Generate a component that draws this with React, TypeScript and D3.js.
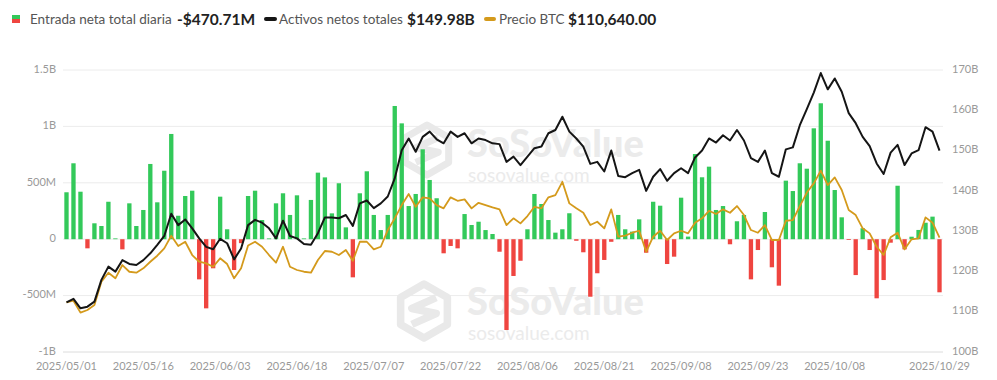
import React from "react";
import * as d3 from "d3";

const dates: string[] = [
  "2025/05/01","2025/05/02","2025/05/05","2025/05/06","2025/05/07","2025/05/08","2025/05/09","2025/05/12","2025/05/13","2025/05/14",
  "2025/05/15","2025/05/16","2025/05/19","2025/05/20","2025/05/21","2025/05/22","2025/05/23","2025/05/27","2025/05/28","2025/05/29",
  "2025/05/30","2025/06/02","2025/06/03","2025/06/04","2025/06/05","2025/06/06","2025/06/09","2025/06/10","2025/06/11","2025/06/12",
  "2025/06/13","2025/06/16","2025/06/17","2025/06/18","2025/06/20","2025/06/23","2025/06/24","2025/06/25","2025/06/26","2025/06/27",
  "2025/06/30","2025/07/01","2025/07/02","2025/07/03","2025/07/07","2025/07/08","2025/07/09","2025/07/10","2025/07/11","2025/07/14",
  "2025/07/15","2025/07/16","2025/07/17","2025/07/18","2025/07/21","2025/07/22","2025/07/23","2025/07/24","2025/07/25","2025/07/28",
  "2025/07/29","2025/07/30","2025/07/31","2025/08/01","2025/08/04","2025/08/05","2025/08/06","2025/08/07","2025/08/08","2025/08/11",
  "2025/08/12","2025/08/13","2025/08/14","2025/08/15","2025/08/18","2025/08/19","2025/08/20","2025/08/21","2025/08/22","2025/08/25",
  "2025/08/26","2025/08/27","2025/08/28","2025/08/29","2025/09/02","2025/09/03","2025/09/04","2025/09/05","2025/09/08","2025/09/09",
  "2025/09/10","2025/09/11","2025/09/12","2025/09/15","2025/09/16","2025/09/17","2025/09/18","2025/09/19","2025/09/22","2025/09/23",
  "2025/09/24","2025/09/25","2025/09/26","2025/09/29","2025/09/30","2025/10/01","2025/10/02","2025/10/03","2025/10/06","2025/10/07",
  "2025/10/08","2025/10/09","2025/10/10","2025/10/13","2025/10/14","2025/10/15","2025/10/16","2025/10/17","2025/10/20","2025/10/21",
  "2025/10/22","2025/10/23","2025/10/24","2025/10/27","2025/10/28","2025/10/29",
];

// Daily total net inflow, millions USD
const netInflowM: number[] = [
  416, 673, 421, -81, 141, 117, 332, 5, -90, 318,
  117, 259, 667, 327, 607, 933, 208, 383, 430, -356,
  -613, -258, 377, 88, -273, -35, 383, 430, 170, 2,
  318, 407, 215, 389, 6, 348, 590, 548, 229, 496,
  105, -338, 407, 602, 215, 81, 215, 1181, 1027, 294,
  401, 797, 525, 363, -125, -60, -81, 223, 126, 155,
  81, 46, -111, -805, -326, -191, 88, 401, 312, 170,
  58, 88, 230, -14, -116, -510, -302, -184, -23, 215,
  88, 67, 176, -120, 332, 297, -220, -155, 368, 23,
  755, 549, 643, 259, 294, -45, 159, 215, -356, -96,
  241, -249, -412, 519, 427, 673, 625, 983, 1205, 873,
  436, 194, -5, -318, 97, -96, -524, -362, -31, 474,
  -90, 22, 82, 146, 200, -470.71,
];

// Total net assets, billions USD
const netAssetsB: number[] = [
  112.3, 113.2, 110.85, 111.25, 112.5, 117.9, 121.2, 119.95, 122.8, 121.85,
  121.6, 122.8, 124.5, 126.6, 128.8, 134.3, 131.5, 132.9, 130.7, 128.2,
  126.1, 125.5, 128.1, 127.0, 123.0, 125.7, 131.5, 132.8, 132.1, 130.7,
  128.2, 132.6, 128.8, 128.2, 126.8, 126.6, 129.5, 133.4, 133.4, 133.2,
  134.0, 131.3, 136.9, 137.6, 135.7, 136.9, 138.6, 143.1, 150.1, 153.0,
  149.7, 153.4, 154.7, 152.8, 151.8, 154.7, 153.4, 154.3, 151.8, 153.0,
  152.6, 151.8, 151.6, 147.2, 148.5, 146.4, 148.5, 150.6, 151.0, 154.3,
  155.1, 158.4, 154.7, 153.0, 151.0, 146.7, 147.2, 144.8, 150.0, 143.7,
  143.4, 144.4, 145.2, 140.0, 143.5, 145.4, 142.5, 144.4, 145.6, 144.4,
  148.3, 150.0, 153.0, 152.0, 153.8, 152.5, 155.1, 152.5, 148.1, 147.2,
  150.0, 144.4, 143.5, 150.3, 150.8, 156.3, 160.3, 164.4, 169.25, 165.2,
  167.9, 164.6, 159.3, 156.8, 153.4, 151.1, 146.8, 144.2, 149.5, 151.4,
  146.4, 149.3, 150.1, 155.8, 154.7, 149.98,
];

// BTC price, USD
const btcPrice: number[] = [
  96490, 96840, 94220, 94810, 95900, 101000, 102980, 101750, 104660, 103190,
  102980, 103940, 105380, 106700, 108320, 111080, 108820, 109760, 106850, 105380,
  105030, 104290, 106130, 104880, 101750, 103940, 108930, 109760, 108670, 106850,
  105170, 108670, 104290, 103570, 103190, 102980, 105760, 107730, 107570, 106850,
  107950, 105600, 109760, 109760, 108100, 108670, 112330, 114890, 117800, 120210,
  117430, 119490, 119270, 117800, 117080, 119490, 118740, 119050, 117080, 118300,
  117800, 117300, 116860, 113420, 114890, 113790, 115390, 117430, 117080, 119490,
  119990, 122900, 118170, 117080, 116120, 113420, 114140, 112700, 116860, 110860,
  111120, 111740, 112170, 107570, 110860, 112170, 110140, 111600, 112170, 111600,
  113930, 114890, 116550, 115830, 116860, 116120, 117580, 115610, 112330, 111740,
  113420, 110140, 110140, 114360, 114520, 117580, 120540, 122550, 125360, 122180,
  123870, 121090, 116710, 115610, 112700, 111600, 108670, 106850, 110730, 111740,
  108100, 110290, 110510, 115110, 113930, 110640,
];

const xTickIndex: number[] = [0, 11, 22, 33, 44, 55, 66, 77, 88, 99, 110, 125];
const leftTicks: number[] = [-1000, -500, 0, 500, 1000, 1500];
const leftTickLabels: string[] = ["-1B", "-500M", "0", "500M", "1B", "1.5B"];
const rightTicks: number[] = [100, 110, 120, 130, 140, 150, 160, 170];
const rightTickLabels: string[] = ["100B", "110B", "120B", "130B", "140B", "150B", "160B", "170B"];

const FONT = "Lato, 'Open Sans', sans-serif";
const GREEN = "#33c95a";
const RED = "#ef4540";
const BLACK = "#151515";
const ORANGE = "#d49a1c";

function Logo({ cx, cy, r }: { cx: number; cy: number; r: number }) {
  const hex = d3.range(6).map((k) => {
    const a = (Math.PI / 3) * k - Math.PI / 2;
    return [cx + r * Math.cos(a), cy + r * Math.sin(a)];
  });
  const hexPath = "M" + hex.map((p) => p.join(",")).join("L") + "Z";
  const s = r * 0.45;
  const sPath = `M${cx + s},${cy - s * 1.1} L${cx - s},${cy - s * 0.2} L${cx + s},${cy + s * 0.2} L${cx - s},${cy + s * 1.1}`;
  return (
    <g fill="none" stroke="#e9e9e9" strokeWidth={r * 0.28} strokeLinejoin="round">
      <path d={hexPath} />
      <path d={sPath} />
    </g>
  );
}

export default function App() {
  const W = 997;
  const H = 380;
  const top = 70;
  const bottom = 352;
  const left = 63;
  const right = 943;

  const n = dates.length;
  const x = d3
    .scaleBand<number>()
    .domain(d3.range(n))
    .range([left, right])
    .paddingInner(0.38)
    .paddingOuter(0.19);
  const cx = (i: number) => (x(i) as number) + x.bandwidth() / 2;

  const yL = d3.scaleLinear().domain([-1000, 1500]).range([bottom, top]);
  const yR = d3.scaleLinear().domain([100, 170]).range([bottom, top]);
  const yP = d3.scaleLinear().domain([85600, 147400]).range([bottom, top]);

  const assetsLine = d3
    .line<number>()
    .x((_, i) => cx(i))
    .y((d) => yR(d))(netAssetsB) as string;
  const priceLine = d3
    .line<number>()
    .x((_, i) => cx(i))
    .y((d) => yP(d))(btcPrice) as string;

  return (
    <svg
      width={W}
      height={H}
      viewBox={`0 0 ${W} ${H}`}
      style={{ position: "absolute", left: 0, top: 0, background: "#fff", fontFamily: FONT }}
    >
      {/* Legend */}
      <g>
        <rect x={12} y={15} width={8} height={4} fill={GREEN} />
        <rect x={12} y={19} width={8} height={4} fill={RED} />
        <text x={30} y={24} fontSize={13.5} fill="#555">Entrada neta total diaria</text>
        <text x={177} y={24.5} fontSize={15.5} fontWeight={700} fill="#222">-$470.71M</text>
        <line x1={266} x2={275} y1={19} y2={19} stroke={BLACK} strokeWidth={4} strokeLinecap="round" />
        <text x={279} y={24} fontSize={13.5} fill="#555">Activos netos totales</text>
        <text x={407} y={24.5} fontSize={15.5} fontWeight={700} fill="#222">$149.98B</text>
        <line x1={486} x2={494} y1={19} y2={19} stroke={ORANGE} strokeWidth={4} strokeLinecap="round" />
        <text x={499} y={24} fontSize={13.5} fill="#555">Precio BTC</text>
        <text x={568} y={24.5} fontSize={15.5} fontWeight={700} fill="#222">$110,640.00</text>
      </g>

      {/* Grid */}
      <g>
        {leftTicks.map((t) => (
          <line key={t} x1={left} x2={right} y1={yL(t)} y2={yL(t)} stroke={t === -1000 ? "#dcdcdc" : "#ececec"} strokeWidth={1} />
        ))}
      </g>

      {/* Watermarks */}
      <g>
        <Logo cx={427} cy={150} r={25} />
        <text x={467} y={157} fontSize={38} fontWeight={900} fill="#ebebeb">SoSoValue</text>
        <text x={468} y={182} fontSize={19} fill="#ebebeb">sosovalue.com</text>
        <Logo cx={424} cy={311} r={27} />
        <text x={467} y={315} fontSize={38} fontWeight={900} fill="#ebebeb">SoSoValue</text>
        <text x={468} y={340} fontSize={19} fill="#ebebeb">sosovalue.com</text>
      </g>

      {/* Bars */}
      <g>
        {netInflowM.map((v, i) => {
          const y0 = yL(0);
          const y1 = yL(v);
          const h = Math.max(Math.abs(y1 - y0), 0.8);
          return (
            <rect
              key={i}
              x={x(i)}
              y={v >= 0 ? y0 - h : y0}
              width={x.bandwidth()}
              height={h}
              fill={v >= 0 ? GREEN : RED}
            />
          );
        })}
      </g>

      {/* Lines */}
      <path d={priceLine} fill="none" stroke={ORANGE} strokeWidth={1.8} strokeLinejoin="round" />
      <path d={assetsLine} fill="none" stroke={BLACK} strokeWidth={2} strokeLinejoin="round" />

      {/* Left axis labels */}
      <g fontSize={11} fill="#999">
        {leftTicks.map((t, k) => (
          <text key={t} x={56} y={yL(t)} textAnchor="end" dominantBaseline="middle">
            {leftTickLabels[k]}
          </text>
        ))}
      </g>

      {/* Right axis labels */}
      <g fontSize={11} fill="#999">
        {rightTicks.map((t, k) => (
          <text key={t} x={952} y={yR(t)} textAnchor="start" dominantBaseline="middle">
            {rightTickLabels[k]}
          </text>
        ))}
      </g>

      {/* X axis labels */}
      <g fontSize={11} fill="#999">
        {xTickIndex.map((i) => (
          <text key={i} x={cx(i)} y={370} textAnchor="middle">
            {dates[i]}
          </text>
        ))}
      </g>
    </svg>
  );
}
